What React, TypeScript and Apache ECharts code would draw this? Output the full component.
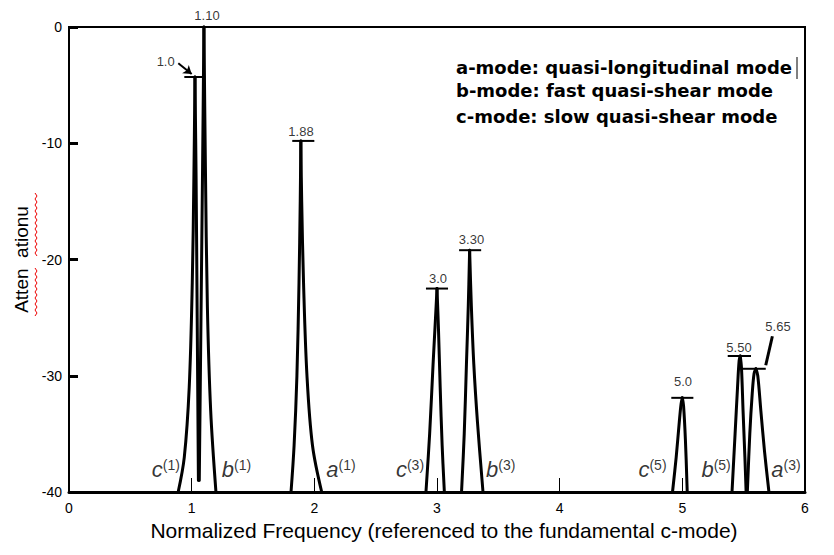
import React, { useEffect, useRef } from "react";
import * as echarts from "echarts";

const FONT = "'Liberation Sans', Arial, sans-serif";
const BOLD_FONT = "'DejaVu Sans', 'Liberation Sans', sans-serif";

// Axis ranges and ticks
const xMin = 0;
const xMax = 6;
const xStep = 1;
const yMin = -40;
const yMax = 0;
const yStep = 10;

// Peak curves: [normalized frequency, attenuation]
const curveC1 = [[0.89, -40], [0.94, -37], [0.98, -31], [1.005, -22], [1.018, -13], [1.027, -4.3], [1.036, -13], [1.045, -25], [1.055, -39]];
const curveB1 = [[1.062, -39], [1.076, -25], [1.089, -12], [1.1, 0], [1.112, -12], [1.128, -24], [1.155, -33], [1.198, -40]];
const curveA1 = [[1.81, -40], [1.835, -36], [1.858, -30], [1.875, -22], [1.885, -15], [1.89, -9.8], [1.897, -15], [1.912, -22], [1.94, -30], [1.985, -36], [2.06, -40]];
const curveC3 = [[2.91, -40], [2.94, -35], [2.968, -29], [2.988, -25], [3.0, -22.5], [3.012, -26], [3.026, -31], [3.042, -36], [3.06, -40]];
const curveB3 = [[3.2, -40], [3.222, -35], [3.24, -29], [3.255, -24], [3.266, -19.2], [3.28, -24], [3.3, -29], [3.33, -34], [3.375, -40]];
const curveC5 = [[4.92, -40], [4.95, -37], [4.975, -34], [4.99, -32.4], [5.0, -31.9], [5.01, -32.6], [5.025, -35.5], [5.04, -40]];
const curveB5 = [[5.405, -40], [5.43, -35], [5.45, -31], [5.463, -28.7], [5.472, -28.3], [5.482, -29.3], [5.495, -33], [5.51, -37], [5.52, -40]];
const curveA3 = [[5.53, -40], [5.55, -35], [5.57, -31.5], [5.585, -29.8], [5.6, -29.4], [5.615, -30], [5.64, -33], [5.67, -36.5], [5.706, -40]];

const peakCurves = [curveC1, curveB1, curveA1, curveC3, curveB3, curveC5, curveB5, curveA3];

// Horizontal peak-level markers: [level, from, to]
const peakLevels = [
  [-4.3, 0.94, 1.11],
  [-9.8, 1.82, 2.0],
  [-22.5, 2.91, 3.09],
  [-19.2, 3.18, 3.36],
  [-31.9, 4.91, 5.09],
  [-28.3, 5.37, 5.56],
  [-29.4, 5.49, 5.68],
];

// Peak value labels
const peakLabelTexts = ["1.0", "1.10", "1.88", "3.0", "3.30", "5.0", "5.50", "5.65"];
const peakLabelX = [0.788, 1.125, 1.891, 3.008, 3.281, 5.005, 5.462, 5.78];
const peakLabelY = [-2.98, 0.95, -9.03, -21.6, -18.26, -30.5, -27.59, -25.78];

// Arrow for "1.0" and slash for "5.65"
const arrowFrom = [0.891, -3.12];
const arrowTo = [1.0, -4.05];
const slashLine = [[5.68, -29.1], [5.734, -26.6]];

// Mode labels near baseline
const modeLetters = ["c", "b", "a", "c", "b", "c", "b", "a"];
const modeOrders = ["1", "1", "1", "3", "3", "5", "5", "3"];
const modeX = [0.79, 1.365, 2.217, 2.78, 3.52, 4.757, 5.275, 5.845];
const modeY = -38.1;

const legendLines = [
  "a-mode: quasi-longitudinal mode",
  "b-mode: fast quasi-shear mode",
  "c-mode: slow quasi-shear mode",
];

const xTitle = "Normalized Frequency (referenced to the fundamental c-mode)";
const yTitle = "Atten  ationu";

function zigzag(x: number, y0: number, y1: number) {
  const pts: number[][] = [];
  let k = 0;
  for (let y = y0; y <= y1; y += 3) {
    pts.push([x + (k % 2 === 0 ? 0 : 2), y]);
    k++;
  }
  return pts;
}

export default function App() {
  const ref = useRef<HTMLDivElement>(null);

  useEffect(() => {
    if (!ref.current) return;
    const chart = echarts.init(ref.current, undefined, { renderer: "svg" });

    const series: any[] = [];
    const legStyle = { color: "#000", width: 3, join: "round", cap: "round" };
    peakCurves.forEach((c) => {
      let top = 0;
      c.forEach((p, i) => {
        if (p[1] > c[top][1]) top = i;
      });
      series.push({
        type: "line",
        data: c.slice(0, top + 1),
        symbol: "none",
        smooth: 0.35,
        clip: false,
        lineStyle: legStyle,
        z: 3,
      });
      series.push({
        type: "line",
        data: c.slice(top),
        symbol: "none",
        smooth: 0.35,
        clip: false,
        lineStyle: legStyle,
        z: 3,
      });
    });
    peakLevels.forEach(([lv, a, b]) => {
      series.push({
        type: "line",
        data: [[a, lv], [b, lv]],
        symbol: "none",
        lineStyle: { color: "#000", width: 2 },
        z: 4,
      });
    });
    series.push({
      type: "line",
      data: slashLine,
      symbol: "none",
      clip: false,
      lineStyle: { color: "#000", width: 3 },
    });
    series.push({
      type: "lines",
      coordinateSystem: "cartesian2d",
      data: [{ coords: [arrowFrom, arrowTo] }],
      symbol: ["none", "arrow"],
      symbolSize: 8,
      lineStyle: { color: "#000", width: 2, opacity: 1 },
    });
    series.push({
      type: "scatter",
      clip: false,
      symbolSize: 0,
      data: peakLabelTexts.map((t, i) => ({ value: [peakLabelX[i], peakLabelY[i]], name: t })),
      label: {
        show: true,
        position: "inside",
        formatter: (p: any) => p.name,
        fontFamily: FONT,
        fontSize: 13,
        color: "#000",
      },
      z: 5,
    });
    series.push({
      type: "scatter",
      clip: false,
      symbolSize: 0,
      data: modeLetters.map((m, i) => ({ value: [modeX[i], modeY], name: `{m|${m}}{s|(${modeOrders[i]})}` })),
      label: {
        show: true,
        position: "inside",
        formatter: (p: any) => p.name,
        rich: {
          m: { fontFamily: FONT, fontSize: 22, fontStyle: "italic", color: "#000", lineHeight: 24 },
          s: { fontFamily: FONT, fontSize: 14, color: "#000", verticalAlign: "top", lineHeight: 14 },
        },
      },
      z: 5,
    });

    chart.setOption({
      animation: false,
      backgroundColor: "#fff",
      grid: {
        left: 69,
        right: 29,
        top: 27,
        bottom: 63,
        show: true,
        borderColor: "#000",
        borderWidth: 2,
      },
      xAxis: {
        type: "value",
        min: xMin,
        max: xMax,
        interval: xStep,
        name: xTitle,
        nameLocation: "middle",
        nameGap: 23,
        nameTextStyle: { fontFamily: FONT, fontSize: 21, color: "#000", padding: [0, 0, 0, 14] },
        axisLine: { onZero: false, lineStyle: { color: "#000", width: 3 } },
        axisTick: { inside: true, length: 14, lineStyle: { color: "#000", width: 1 } },
        axisLabel: { fontFamily: FONT, fontSize: 14, color: "#000", margin: 9 },
        splitLine: { show: false },
      },
      yAxis: {
        type: "value",
        min: yMin,
        max: yMax,
        interval: yStep,
        name: yTitle,
        nameLocation: "middle",
        nameGap: 32,
        nameTextStyle: { fontFamily: FONT, fontSize: 19, color: "#000" },
        axisLine: { onZero: false, lineStyle: { color: "#000", width: 2 } },
        axisTick: { inside: true, length: 9, lineStyle: { color: "#000", width: 3 } },
        axisLabel: { fontFamily: FONT, fontSize: 14, color: "#000", margin: 7 },
        splitLine: { show: false },
      },
      graphic: [
        ...legendLines.map((t, i) => ({
          type: "text",
          left: 456,
          top: [58, 81, 107][i],
          style: { text: t, fontFamily: BOLD_FONT, fontSize: 18, fontWeight: "bold", fill: "#000" },
        })),
        {
          type: "line",
          shape: { x1: 797, y1: 57, x2: 797, y2: 79 },
          style: { stroke: "#000", lineWidth: 1 },
        },
        {
          type: "polyline",
          shape: { points: zigzag(35, 193, 256) },
          style: { stroke: "#e00", lineWidth: 1, fill: null },
        },
        {
          type: "polyline",
          shape: { points: zigzag(35, 268, 318) },
          style: { stroke: "#e00", lineWidth: 1, fill: null },
        },
      ],
      series,
    });

    return () => chart.dispose();
  }, []);

  return <div ref={ref} style={{ position: "fixed", left: 0, top: 0, width: 834, height: 555 }} />;
}
